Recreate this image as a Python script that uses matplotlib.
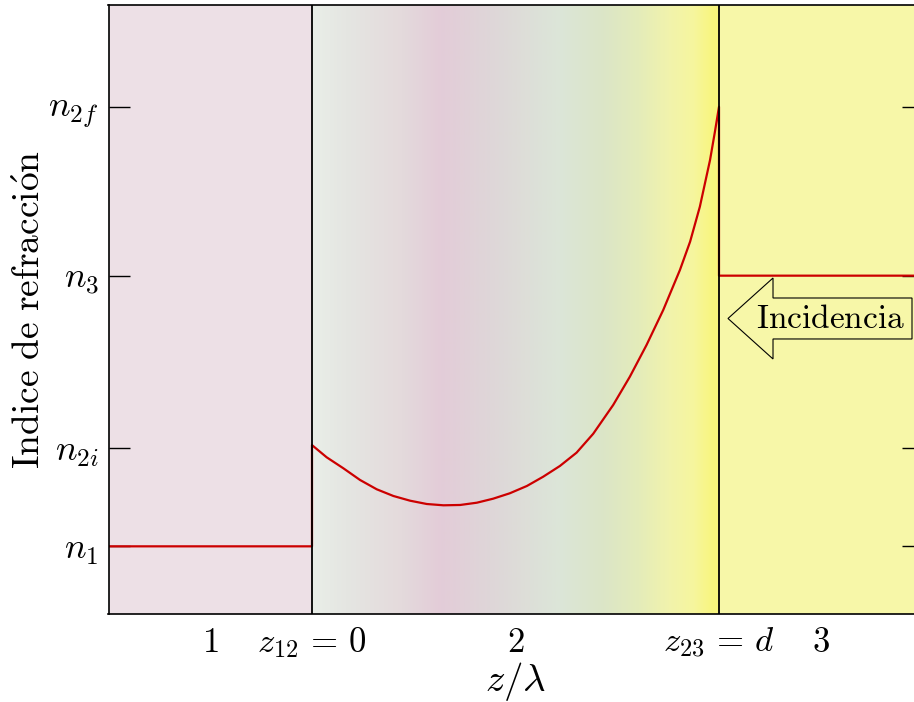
import numpy as np
import matplotlib.pyplot as plt
from matplotlib.colors import LinearSegmentedColormap
from matplotlib.patches import FancyArrow

plt.rcParams['mathtext.fontset'] = 'cm'

# refractive index levels (arbitrary units)
n1 = 1.0
n2i = 1.182
n3 = 1.5
n2f = 1.812

# profile inside layer 2, z in units of d
z2 = [0.0, 0.036, 0.077, 0.118, 0.159, 0.200, 0.241, 0.282, 0.323, 0.364,
      0.405, 0.445, 0.486, 0.528, 0.568, 0.609, 0.650, 0.691, 0.740, 0.781,
      0.822, 0.863, 0.904, 0.929, 0.953, 0.978, 0.990, 1.0]
n2 = [1.187, 1.1645, 1.1442, 1.1226, 1.1054, 1.0930, 1.0843, 1.0782, 1.0758, 1.0764,
      1.0806, 1.0880, 1.0980, 1.1115, 1.1286, 1.1484, 1.1730, 1.2080, 1.2611, 1.3134,
      1.3720, 1.4366, 1.5105, 1.5628, 1.6275, 1.7137, 1.7660, 1.812]

xtick_pos = [-0.25, 0.0, 0.5, 1.0, 1.25]
xtick_lab = ['$1$', r'$z_{12}\,=\,0$', '$2$', r'$z_{23}\,=\,d$', '$3$']
ytick_pos = [n1, n2i, n3, n2f]
ytick_lab = ['$n_1$', '$n_{2i}$', '$n_3$', '$n_{2f}$']

# background colour of layer 2 along z
grad_pos = [0.0, 0.08, 0.22, 0.315, 0.46, 0.61, 0.71, 0.805, 0.88, 0.94, 0.99, 1.0]
grad_rgb = [(233, 238, 232), (229, 230, 226), (228, 218, 220), (227, 204, 216),
            (222, 216, 216), (220, 230, 216), (219, 229, 200), (228, 236, 186),
            (241, 243, 172), (246, 246, 158), (248, 245, 125), (248, 245, 125)]
col1 = (237/255, 224/255, 230/255)
col3 = (247/255, 247/255, 168/255)

fig = plt.figure(figsize=(9.14, 7.02), dpi=100)
ax = fig.add_axes([108.5/914, 88/702, 814/914, 609/702])

ylo, yhi = 0.875, 2.0
ax.set_xlim(-0.5, 1.5)
ax.set_ylim(ylo, yhi)

ax.axvspan(-0.5, 0, color=col1, lw=0, zorder=0)
ax.axvspan(1, 1.5, color=col3, lw=0, zorder=0)
cmap = LinearSegmentedColormap.from_list(
    'layer2', list(zip(grad_pos, [tuple(c/255 for c in rgb) for rgb in grad_rgb])))
ax.imshow(np.linspace(0, 1, 400).reshape(1, -1), cmap=cmap, aspect='auto',
          extent=(0, 1, ylo, yhi), zorder=0.5, interpolation='bilinear')

z = [-0.5, 0.0] + z2 + [1.0, 1.5]
n = [n1, n1] + n2 + [n3, n3]
ax.plot(z, n, color='#cc0000', lw=1.6, zorder=2, solid_joinstyle='round')

ax.axvline(0, color='black', lw=1.3, zorder=3)
ax.axvline(1, color='black', lw=1.3, zorder=3)

ax.add_patch(FancyArrow(1.4742, 1.4209, 1.0221 - 1.4742, 0, width=0.0757,
                        head_width=0.1496, head_length=0.1106,
                        length_includes_head=True, fc='none', ec='black',
                        lw=0.8, zorder=4))
ax.text(1.275, 1.4209, r'$\mathrm{Incidencia}$', fontsize=24,
        ha='center', va='center', zorder=5)

ax.set_xticks(xtick_pos)
ax.set_xticklabels(xtick_lab, fontsize=25)
ax.set_yticks(ytick_pos)
ax.set_yticklabels(ytick_lab, fontsize=26)
ax.tick_params(axis='x', length=0, pad=8)
ax.tick_params(axis='y', direction='in', length=15, width=1, right=True, pad=7)
for s in ax.spines.values():
    s.set_linewidth(1.2)

ax.set_xlabel(r'$z/\lambda$', fontsize=28, labelpad=0)
ax.set_ylabel(r'$\mathrm{Indice\ de\ refracci\acute{o}n}$', fontsize=27, labelpad=0)

fig.savefig('out.png', dpi=100)
